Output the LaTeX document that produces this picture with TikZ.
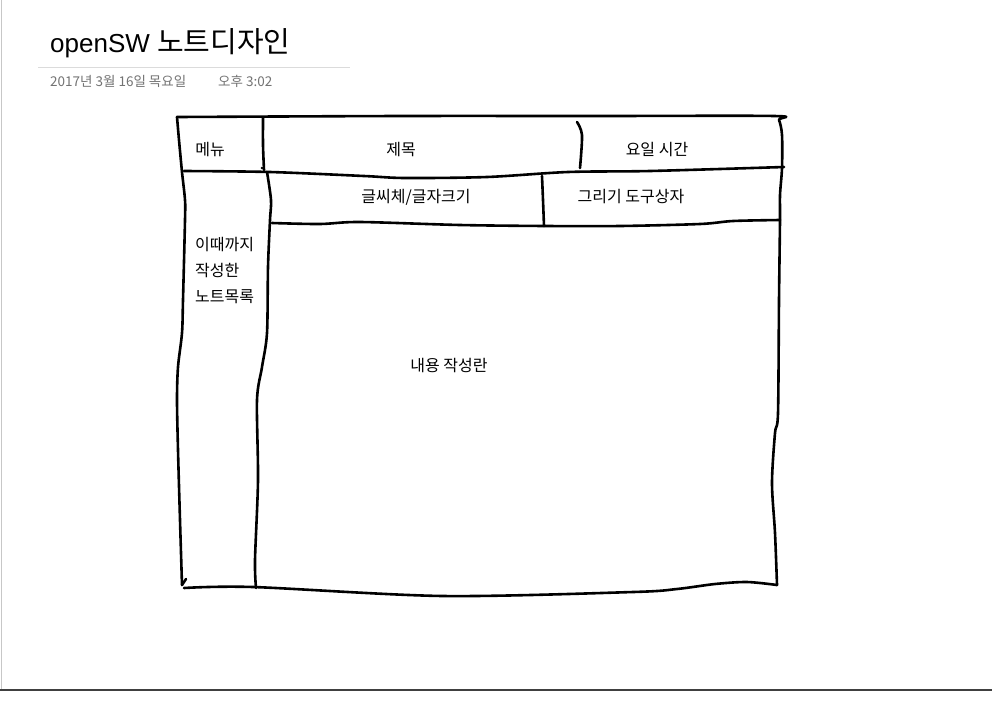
\documentclass[tikz,border=0pt]{standalone}
\usepackage{fontspec}
\setmainfont{Liberation Sans}
\newfontfamily\kr{Noto Sans CJK KR}

\begin{document}
\begin{tikzpicture}
  [x=1pt,y=-1pt,every node/.style={inner sep=0pt,font=\kr\fontsize{16}{18}\selectfont},
   pen/.style={line width=2.6pt,line cap=round,line join=round},
   datetext/.style={anchor=base west,text=black!55,font=\kr\fontsize{13.5}{15}\selectfont}]
  \useasboundingbox[fill=white] (0,0) rectangle (992,702);

  % page frame
  \draw[black!22,line width=1pt] (1,0) -- (1,690);
  \draw[black!75,line width=1.6pt] (0,690) -- (992,690);
  \draw[black!14,line width=0.8pt] (38,67) -- (350,67);

  \node[anchor=base west,font=\fontsize{26}{30}\selectfont] (title) at (50,52) {openSW {\kr\fontsize{29}{32}\selectfont 노트디자인}};
  \node[datetext] (date) at (50,86) {2017년 3월 16일 목요일};
  \node[datetext] (time) at (218,86) {오후 3:02};

  % sketch
  \draw[pen] plot[smooth,tension=.5] coordinates {(177,117) (400,116) (600,116) (774,116) (779,120) (782,135) (782,168) (780,195) (780,220) (779,300) (778,413) (775,433) (772,483) (775,533) (777,585)};
  \draw[pen] plot[smooth,tension=.5] coordinates {(177,117) (179,140) (182,172) (185,200) (185,220) (183,300) (182,333) (178,367) (177,400) (178,450) (180,520) (182,585)};
  \draw[pen] plot[smooth,tension=.5] coordinates {(184,588) (253,587) (443,596) (633,592) (677,589) (715,584) (747,582) (777,585)};
  \draw[pen] (182,585) -- (186,579);
  \draw[pen] plot[smooth,tension=.5] coordinates {(263,118) (263,145) (264,170)};
  \draw[pen] plot[smooth,tension=.5] coordinates {(184,171) (270,172) (364,176) (405,178) (487,177) (568,172) (650,171) (784,167)};
  \draw[pen] plot[smooth,tension=.5] coordinates {(577,122) (582,135) (580,168)};
  \draw[pen] plot[smooth,tension=.5] coordinates {(267,172) (271,200) (270,220) (268,267) (267,333) (262,367) (257,400) (258,480) (255,560) (256,588)};
  \draw[pen] plot[smooth,tension=.5] coordinates {(272,223) (320,224) (360,222) (460,225) (546,226) (620,226) (700,224) (733,221) (780,220)};
  \draw[pen] plot[smooth,tension=.5] coordinates {(542,176) (543,200) (544,226)};
  \fill (262,168) circle (1.3pt);

  \node (menu) at (210,150) {메뉴};
  \node (subject) at (401,150) {제목};
  \node (daytime) at (657,150) {요일 시간};
  \node (fontbar) at (416,197) {글씨체/글자크기};
  \node (toolbox) at (631,197) {그리기 도구상자};
  \node (content) at (449,365) {내용 작성란};
  \foreach \i/\txt in {0/이때까지, 1/작성한, 2/노트목록}
    \node[anchor=west] (list\i) at (195,245+26*\i) {\txt};

\end{tikzpicture}
\end{document}
